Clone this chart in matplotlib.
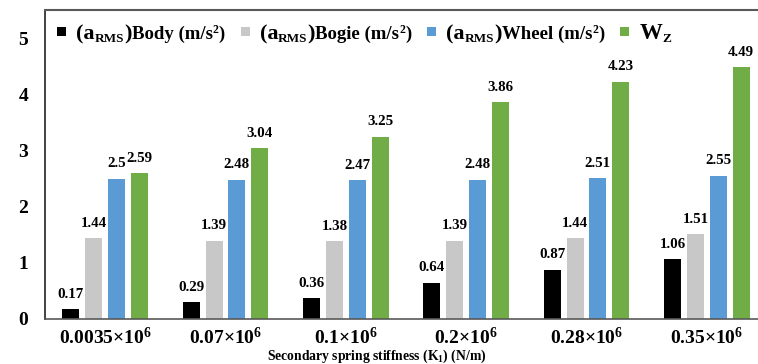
import matplotlib
matplotlib.use("Agg")
import matplotlib.pyplot as plt
from matplotlib.transforms import IdentityTransform
from matplotlib.patches import Rectangle
import numpy as np

plt.rcParams["font.family"] = ["Liberation Serif", "DejaVu Serif"]
plt.rcParams["font.weight"] = "bold"
plt.rcParams["mathtext.fontset"] = "custom"
plt.rcParams["mathtext.rm"] = "Liberation Serif:bold"
plt.rcParams["mathtext.bf"] = "Liberation Serif:bold"
plt.rcParams["mathtext.it"] = "Liberation Serif:bold:italic"

# Secondary spring stiffness cases
categories = [r"0.0035×10$^{6}$", r"0.07×10$^{6}$", r"0.1×10$^{6}$",
              r"0.2×10$^{6}$", r"0.28×10$^{6}$", r"0.35×10$^{6}$"]

# RMS accelerations (m/s^2) and ride index
a_body = [0.17, 0.29, 0.36, 0.64, 0.87, 1.06]
a_bogie = [1.44, 1.39, 1.38, 1.39, 1.44, 1.51]
a_wheel = [2.5, 2.48, 2.47, 2.48, 2.51, 2.55]
w_z = [2.59, 3.04, 3.25, 3.86, 4.23, 4.49]

series = [a_body, a_bogie, a_wheel, w_z]
colors = ["#000000", "#c8c8c8", "#5b9bd5", "#70ad47"]

W, H = 758, 364
fig = plt.figure(figsize=(W / 100, H / 100), dpi=100)
ax = fig.add_axes([45 / W, (H - 318.5) / H, (767 - 45) / W, (318.5 - 10) / H])

x = np.arange(len(categories))
step = 0.19
width = 0.141
for i, (vals, c) in enumerate(zip(series, colors)):
    pos = x + (i - 1.5) * step
    ax.bar(pos, vals, width, color=c, zorder=2)
    for px, v in zip(pos, vals):
        ax.annotate(f"{v:g}", (px, v), xytext=(0, 6), textcoords="offset points",
                    ha="center", va="bottom", fontsize=10.8, fontweight="bold")

ax.set_xlim(-0.5, 5.5)
ax.set_ylim(0, 5.51)
ax.set_yticks(range(6))
ax.set_xticks(x)
ax.set_xticklabels(categories, fontsize=14)
ax.tick_params(axis="both", length=0)
ax.tick_params(axis="y", labelsize=14, pad=12)
ax.tick_params(axis="x", pad=6)

ax.spines["right"].set_visible(False)
ax.spines["top"].set_color("#595959")
ax.spines["top"].set_linewidth(1.5)
ax.spines["left"].set_color("#222222")
ax.spines["left"].set_linewidth(1.2)
ax.spines["bottom"].set_color("#595959")
ax.spines["bottom"].set_linewidth(1.2)

fig.text(377 / W, 1 - 360 / H, r"Secondary spring stiffness (K$_{1}$) (N/m)",
         ha="center", va="baseline", fontsize=9.8, fontweight="bold")

# Legend row with mixed-size text pieces
renderer = fig.canvas.get_renderer()
ident = IdentityTransform()


def legend_entry(x0, color, pieces, base_y):
    sq = 9
    fig.patches.append(Rectangle((x0, H - 36), sq, sq, transform=ident,
                                 facecolor=color, edgecolor="none"))
    cx = x0 + sq + 10
    for txt, size, dy in pieces:
        t = fig.text(cx, H - base_y + dy, txt, transform=ident, fontsize=size,
                     fontweight="bold", ha="left", va="baseline")
        cx += t.get_window_extent(renderer).width
    return cx


def rms_label(name):
    return [("(a", 16, 0), ("RMS", 9.5, -3), (")", 16, 0),
            (name + " (m/s", 13.5, 0), ("2", 8.5, 6), (")", 13.5, 0)]


labels = [rms_label("Body"), rms_label("Bogie"), rms_label("Wheel"),
          [("W", 16.5, 0), ("Z", 9.5, -3)]]
lx = 57
for c, pieces in zip(colors, labels):
    end = legend_entry(lx, c, pieces, 39)
    lx = end + 16

fig.savefig("out.png", dpi=100)
